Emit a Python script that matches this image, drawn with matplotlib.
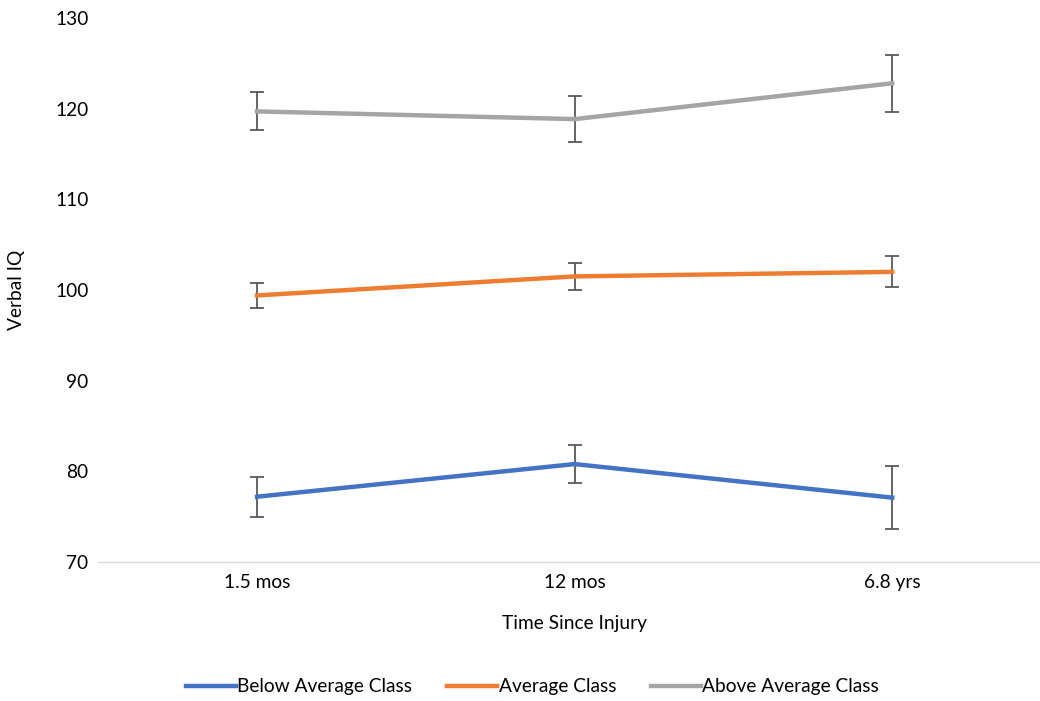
import numpy as np
import matplotlib.pyplot as plt
from matplotlib.lines import Line2D

plt.rcParams['font.family'] = ['Lato', 'DejaVu Sans']

times = ['1.5 mos', '12 mos', '6.8 yrs']
series = ['Below Average Class', 'Average Class', 'Above Average Class']

below = [77.2, 80.8, 77.1]
below_err = [2.2, 2.05, 3.5]
average = [99.4, 101.5, 102.0]
average_err = [1.4, 1.5, 1.7]
above = [119.7, 118.85, 122.8]
above_err = [2.1, 2.55, 3.15]

colors = ['#4472C4', '#ED7D31', '#A5A5A5']
fs = 13.8

fig = plt.figure(figsize=(10.4, 7.01), dpi=100)
ax = fig.add_axes([0.0945, 0.1983, 0.916, 0.776])

x = np.arange(len(times))
for vals, errs, col, name in zip([below, average, above], [below_err, average_err, above_err], colors, series):
    ax.errorbar(x, vals, yerr=errs, color=col, linewidth=3.2, label=name,
                ecolor='#595959', elinewidth=1.3, capsize=5, capthick=1.3, zorder=2)

ax.set_xlim(-0.5, 2.5)
ax.set_ylim(70, 130)
ax.set_yticks(range(70, 131, 10))
ax.set_xticks(x)
ax.set_xticklabels(times)
ax.tick_params(axis='both', length=0, labelsize=fs, colors='black')
ax.tick_params(axis='x', pad=9)
ax.tick_params(axis='y', pad=7)
for s in ['top', 'right', 'left']:
    ax.spines[s].set_visible(False)
ax.spines['bottom'].set_color('#D9D9D9')
ax.spines['bottom'].set_linewidth(1)

ax.set_xlabel('Time Since Injury', fontsize=fs, labelpad=17)
ax.set_ylabel('Verbal IQ', fontsize=fs)
ax.yaxis.set_label_coords(-0.077, 0.5)

h = [Line2D([0], [0], color=c, linewidth=3.2) for c in colors]
fig.legend(h, series, loc='center', bbox_to_anchor=(0.512, 0.02), ncol=3, frameon=False,
           fontsize=fs, handlelength=2.6, handletextpad=0.1, columnspacing=1.8)

plt.savefig('out.png', dpi=100)
